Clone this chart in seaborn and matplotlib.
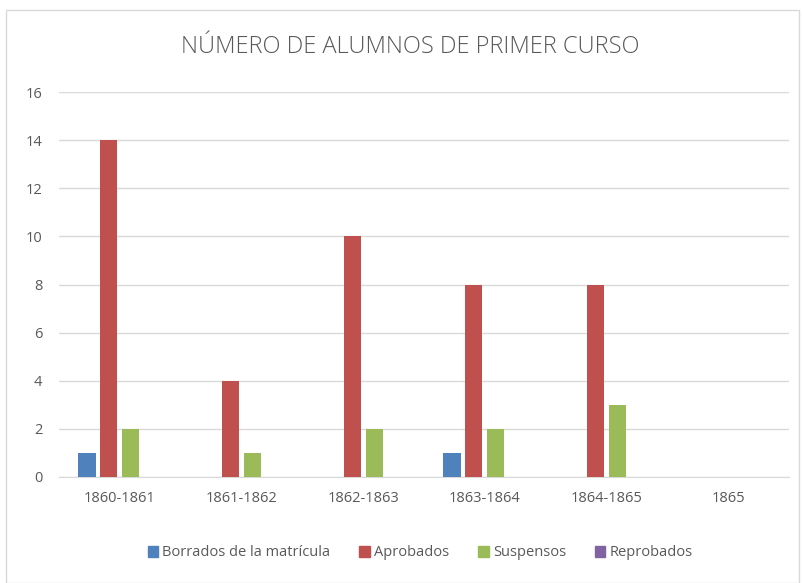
import pandas as pd
import seaborn as sns
import matplotlib.pyplot as plt
from matplotlib.patches import Rectangle

cursos = ['1860-1861', '1861-1862', '1862-1863', '1863-1864', '1864-1865', '1865']
series = ['Borrados de la matrícula', 'Aprobados', 'Suspensos', 'Reprobados']
borrados = [1, 0, 0, 1, 0, 0]
aprobados = [14, 4, 10, 8, 8, 0]
suspensos = [2, 1, 2, 2, 3, 0]
reprobados = [0, 0, 0, 0, 0, 0]
colores = ['#4F81BD', '#C0504D', '#9BBB59', '#8064A2']

rows = []
for name, vals in zip(series, [borrados, aprobados, suspensos, reprobados]):
    for c, v in zip(cursos, vals):
        rows.append({'curso': c, 'serie': name, 'n': v})
df = pd.DataFrame(rows)

sns.set_style('white')
plt.rcParams['font.family'] = ['Open Sans', 'DejaVu Sans']

fig = plt.figure(figsize=(8.02, 5.83), dpi=100)
ax = fig.add_axes([59 / 802, 1 - 477 / 583, 730 / 802, 385 / 583])

sns.barplot(data=df, x='curso', y='n', hue='serie', palette=colores,
            width=0.72, gap=0.22, ax=ax, legend=False, saturation=1,
            edgecolor='none', zorder=3)

ax.set_ylim(0, 16)
ax.set_yticks(range(0, 17, 2))
ax.grid(axis='y', color='#d9d9d9', linewidth=1, zorder=0)
ax.set_axisbelow(True)
for s in ['top', 'right', 'left']:
    ax.spines[s].set_visible(False)
ax.spines['bottom'].set_color('#d9d9d9')
ax.set_xlabel('')
ax.set_ylabel('')
ax.tick_params(axis='both', length=0, labelsize=10.5, colors='#595959')
ax.tick_params(axis='x', pad=10)
ax.tick_params(axis='y', pad=12)

fig.text(0.512, 1 - 47 / 583, 'NÚMERO DE ALUMNOS DE PRIMER CURSO',
         ha='center', va='center', fontsize=17, color='#595959', fontweight='light')

handles = [Rectangle((0, 0), 1, 1, color=c) for c in colores]
fig.legend(handles, series, loc='center', bbox_to_anchor=(0.524, 1 - 553 / 583),
           ncol=4, frameon=False, fontsize=10.5, handlelength=0.7, handleheight=0.7,
           handletextpad=0.3, columnspacing=2.0, labelcolor='#595959')

fig.patches.append(Rectangle((6 / 802, 0), 793 / 802, 1 - 10 / 583, transform=fig.transFigure,
                             fill=False, edgecolor='#d9d9d9', linewidth=1))

fig.savefig('out.png', dpi=100)
